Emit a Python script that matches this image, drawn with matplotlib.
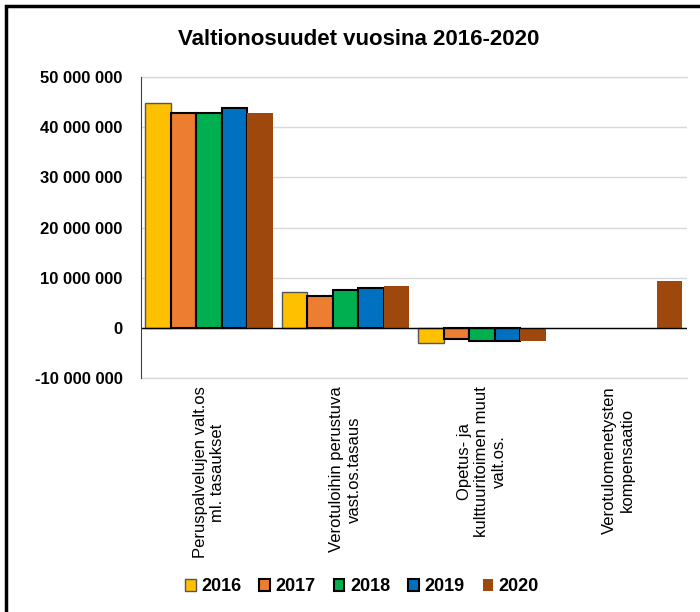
import numpy as np
import matplotlib.pyplot as plt
from matplotlib.patches import Rectangle
from matplotlib.ticker import FuncFormatter

plt.rcParams['font.family'] = ['Liberation Sans', 'DejaVu Sans']

categories = ["Peruspalvelujen valt.os\nml. tasaukset",
              "Verotuloihin perustuva\nvast.os.tasaus",
              "Opetus- ja\nkulttuuritoimen muut\nvalt.os.",
              "Verotulomenetysten\nkompensaatio"]
years = ["2016", "2017", "2018", "2019", "2020"]
v2016 = [44800000, 7200000, -2900000, 0]
v2017 = [42800000, 6400000, -2200000, 0]
v2018 = [42800000, 7600000, -2600000, 0]
v2019 = [43800000, 8000000, -2600000, 0]
v2020 = [42800000, 8400000, -2500000, 9400000]
values = [v2016, v2017, v2018, v2019, v2020]

colors = ["#FFC000", "#ED7D31", "#00B050", "#0070C0", "#9E480E"]
edges = ["#555555", "black", "black", "black", "none"]
lws = [1.0, 1.5, 1.5, 1.5, 0]

fig = plt.figure(figsize=(7, 6.12), dpi=100)
ax = fig.add_axes([0.201, 0.382, 0.780, 0.492])

x = np.arange(len(categories))
w = 0.187
for i, (yr, vals) in enumerate(zip(years, values)):
    vals = np.array(vals)
    keep = vals != 0
    ax.bar((x + (i - 2) * w)[keep], vals[keep], width=w, color=colors[i], edgecolor=edges[i],
           linewidth=lws[i], label=yr, zorder=3)

ax.set_xlim(-0.5, len(categories) - 0.5)
ax.set_ylim(-10000000, 50000000)
ax.set_yticks(np.arange(-10000000, 50000001, 10000000))
ax.yaxis.set_major_formatter(FuncFormatter(lambda v, p: f"{int(v):,}".replace(",", " ")))
ax.grid(axis='y', color='#d9d9d9', linewidth=1, zorder=0)
for yv in [-10000000, 50000000]:
    ax.axhline(yv, color='#d9d9d9', linewidth=1, zorder=0, clip_on=False)
ax.axhline(0, color='black', linewidth=1, zorder=4)
for s in ['top', 'right', 'bottom']:
    ax.spines[s].set_visible(False)
ax.spines['left'].set_color('#404040')
ax.spines['left'].set_zorder(5)
ax.tick_params(axis='y', length=0, pad=13)
ax.tick_params(axis='x', length=0, pad=6)
for lab in ax.get_yticklabels():
    lab.set_fontweight('bold')
    lab.set_fontsize(12)

ax.set_xticks(x)
ax.set_xticklabels(categories, rotation=90, ha='center', va='top',
                   multialignment='center', fontsize=12)

fig.text(0.512, 0.935, "Valtionosuudet vuosina 2016-2020", ha='center', va='center',
         fontsize=16, fontweight='bold')

fig.legend(loc='center', bbox_to_anchor=(0.517, 0.041), ncol=5, frameon=False,
           prop={'weight': 'bold', 'size': 13}, handlelength=0.6, handleheight=0.6,
           handletextpad=0.3, columnspacing=1.0)

# figure frame (left and top edges visible)
fig.patches.append(Rectangle((0.008, -0.05), 1.1, 1.04, transform=fig.transFigure,
                             fill=False, edgecolor='black', linewidth=2.5))

fig.savefig("out.png", dpi=100)
